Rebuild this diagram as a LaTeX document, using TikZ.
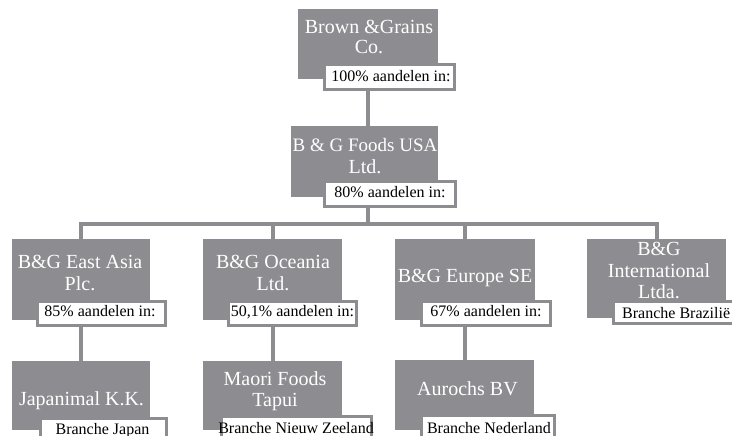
\documentclass[tikz,border=0pt]{standalone}
\usepackage{fontspec}
\setmainfont{Liberation Serif}
\definecolor{boxgray}{RGB}{141,141,145}
\begin{document}
\begin{tikzpicture}[x=1pt,y=-1pt,
  body/.style={fill=boxgray, draw=none, inner sep=0pt, rectangle},
  lbl/.style={fill=white, draw=boxgray, line width=3pt, inner sep=0pt, rectangle},
  boxtext/.style={text=white, inner sep=0pt, anchor=base, font=\fontsize{20}{24}\selectfont},
  lbltext/.style={text=black, inner sep=0pt, anchor=base, font=\fontsize{16}{19}\selectfont},
  conn/.style={draw=boxgray, line width=4pt}]
\clip (0,0) rectangle (732,436);
\fill[white] (0,0) rectangle (732,436);
% company boxes
\node[body, minimum width=140pt, minimum height=70pt] (b1) at (368,44) {};
\node[body, minimum width=147pt, minimum height=71pt] (b2) at (364.5,161.5) {};
\node[body, minimum width=138pt, minimum height=81pt] (b3) at (81,279.5) {};
\node[body, minimum width=139pt, minimum height=81pt] (b4) at (272.5,279.5) {};
\node[body, minimum width=140pt, minimum height=81pt] (b5) at (465,279.5) {};
\node[body, minimum width=139pt, minimum height=79pt] (b6) at (656.5,278.5) {};
\node[body, minimum width=138pt, minimum height=69pt] (b7) at (81,395.5) {};
\node[body, minimum width=139pt, minimum height=69pt] (b8) at (272.5,395.5) {};
\node[body, minimum width=139pt, minimum height=70pt] (b9) at (464.5,395) {};
% connectors
\coordinate (bus) at (368,224);
\draw[conn] (b1.south) -- (b1.south |- b2.north);
\draw[conn] (b1.south |- b2.south) -- (bus);
\draw[conn, line join=miter] (b3.north) -- (b3.north |- bus) -- (b6.north |- bus) -- (b6.north);
\draw[conn] (b4.north |- bus) -- (b4.north);
\draw[conn] (b5.north |- bus) -- (b5.north);
\draw[conn] (b3.south) -- (b7.north);
\draw[conn] (b4.south) -- (b8.north);
\draw[conn] (b5.south) -- (b5.south |- b9.north);
% share labels
\node[lbl, minimum width=130pt, minimum height=25pt] (l1) at (389.5,77) {};
\node[lbl, minimum width=131pt, minimum height=25pt] (l2) at (390,194) {};
\node[lbl, minimum width=128pt, minimum height=24pt] (l3) at (101.5,313.5) {};
\node[lbl, minimum width=128pt, minimum height=24pt] (l4) at (292.5,313.5) {};
\node[lbl, minimum width=129pt, minimum height=24pt] (l5) at (486,313.5) {};
\node[lbl, minimum width=135pt, minimum height=22pt] (l6) at (681,312.5) {};
\node[lbl, minimum width=126pt, minimum height=30pt] (l7) at (103.5,433.5) {};
\node[lbl, minimum width=150pt, minimum height=32pt] (l8) at (296.5,432.5) {};
\node[lbl, minimum width=133pt, minimum height=33pt] (l9) at (488,432) {};
% company names
\node[boxtext] (t1a) at (369,34) {Brown \&Grains};
\node[boxtext] (t1b) at (369,54) {Co.};
\node[boxtext, font=\fontsize{19}{23}\selectfont] (t2a) at (365,152) {B \& G Foods USA};
\node[boxtext] (t2b) at (365,173) {Ltd.};
\node[boxtext] (t3a) at (80,268) {B\&G East Asia};
\node[boxtext] (t3b) at (80,290) {Plc.};
\node[boxtext] (t4a) at (273,268) {B\&G Oceania};
\node[boxtext] (t4b) at (273,290) {Ltd.};
\node[boxtext] (t5a) at (465,282) {B\&G Europe SE};
\node[boxtext] (t6a) at (659,255) {B\&G};
\node[boxtext] (t6b) at (659,277) {International};
\node[boxtext] (t6c) at (659,298) {Ltda.};
\node[boxtext] (t7a) at (81.5,405) {Japanimal K.K.};
\node[boxtext] (t8a) at (275,385) {Maori Foods};
\node[boxtext] (t8b) at (275,406) {Tapui};
\node[boxtext] (t9a) at (467.5,395) {Aurochs BV};
% label texts
\node[lbltext] (l1t) at (391,82) {100\% aandelen in:};
\node[lbltext] (l2t) at (390,197) {80\% aandelen in:};
\node[lbltext] (l3t) at (100,316) {85\% aandelen in:};
\node[lbltext] (l4t) at (292.5,316) {50,1\% aandelen in:};
\node[lbltext] (l5t) at (486,316) {67\% aandelen in:};
\node[lbltext, anchor=base west] (l6t) at (622,318) {Branche Brazilië};
\node[lbltext] (l7t) at (102.5,434) {Branche Japan};
\node[lbltext] (l8t) at (296,433) {Branche Nieuw Zeeland};
\node[lbltext] (l9t) at (489,433) {Branche Nederland};
\end{tikzpicture}
\end{document}
